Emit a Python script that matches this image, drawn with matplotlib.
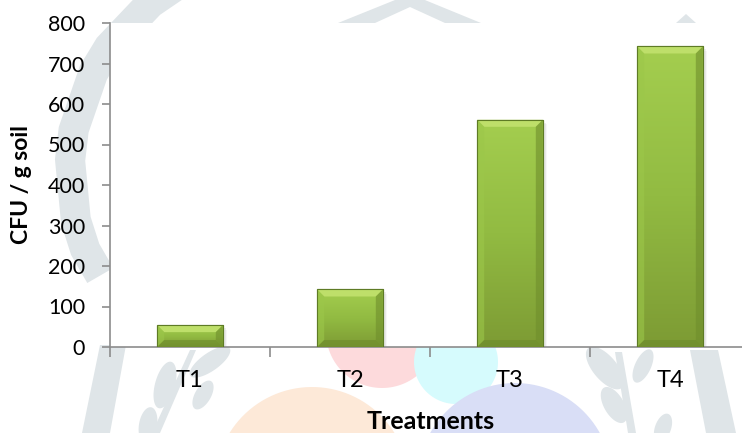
import numpy as np
import matplotlib
matplotlib.use("Agg")
import matplotlib.pyplot as plt
from matplotlib.patches import Wedge, Polygon, Rectangle
from matplotlib.colors import LinearSegmentedColormap

# ---- data ----
treatments = ["T1", "T2", "T3", "T4"]
cfu_values = [54, 142, 561, 742]
y_ticks = [0, 100, 200, 300, 400, 500, 600, 700, 800]

W, H = 742, 433
fig = plt.figure(figsize=(W / 100, H / 100), dpi=100)
fig.patch.set_facecolor("white")


def px(x, y):
    """pixel position (from top-left) -> figure fraction"""
    return x / W, 1 - y / H


def add_fig_patch(p):
    p.set_transform(fig.transFigure)
    p.set_zorder(0)
    fig.patches.append(p)


def fpoly(points, color):
    add_fig_patch(Polygon([px(a, b) for a, b in points], closed=True,
                          facecolor=color, edgecolor="none"))


# ---- faint background emblem (figure level, hidden behind the white plot area) ----
grey = "#DFE5E8"


def fwedge(cx, cy, r, t1, t2, width, color):
    w = Wedge((0, 0), r, t1, t2, width=width)
    verts = w.get_path().vertices
    fpoly([(cx + a, cy - b) for a, b in verts], color)


def fcircle(cx, cy, r, color):
    t = np.linspace(0, 2 * np.pi, 120)
    fpoly(list(zip(cx + r * np.cos(t), cy + r * np.sin(t))), color)


def fleaf(cx, cy, a, b, ang, color):
    t = np.linspace(0, 2 * np.pi, 80)
    xs = a * np.cos(t)
    ys = b * np.sin(t)
    ca, sa = np.cos(np.radians(ang)), np.sin(np.radians(ang))
    fpoly([(cx + x * ca - y * sa, cy + x * sa + y * ca) for x, y in zip(xs, ys)], color)


# coloured petals near the bottom centre
fcircle(312, 484, 97, "#FDE9D8")
fcircle(382, 332, 56, "#FDDADC")
fcircle(456, 362, 42, "#D6FBFD")
fcircle(515, 480, 97, "#D9DEF6")

# left wreath arc and stroke
fwedge(283, 170, 226, 112, 210, 30, grey)
fpoly([(100, 345), (126, 345), (110, 433), (82, 433)], grey)
# left fern
fpoly([(190, 350), (196, 350), (160, 433), (152, 433)], grey)
fleaf(165, 385, 10, 24, 15, grey)
fleaf(210, 362, 9, 24, 55, grey)
fleaf(203, 395, 8, 16, 30, grey)
fleaf(148, 425, 9, 18, 10, grey)
# right wreath stroke
fpoly([(690, 350), (718, 350), (736, 433), (706, 433)], grey)
# right fern
fpoly([(615, 352), (622, 352), (636, 433), (628, 433)], grey)
fleaf(605, 368, 12, 26, -40, grey)
fleaf(614, 405, 10, 20, -30, grey)
fleaf(643, 366, 8, 18, 25, grey)
fleaf(663, 428, 8, 15, 20, grey)
# top chevron and small tips
fpoly([(338, 23), (400, -2), (420, -2), (481, 23), (445, 23), (410, 7), (375, 23)], grey)
fpoly([(126, 23), (136, 14), (146, 23)], grey)
fpoly([(676, 23), (686, 14), (696, 23)], grey)

# ---- axes ----
ax = fig.add_axes([110 / W, 86 / H, 640 / W, 324 / H])
ax.set_facecolor("white")
ax.set_zorder(2)

x = np.arange(len(treatments))
bar_w = 0.41
ax.set_xlim(-0.5, len(treatments) - 0.5)
ax.set_ylim(0, 800)

face_cmap = LinearSegmentedColormap.from_list("face", ["#A4CE4F", "#92BB42", "#7D9B34"])

bars = ax.bar(x, cfu_values, width=bar_w, color="#93BC42", edgecolor="#5E7B25",
              linewidth=0.8, zorder=3)

# pixel size of one data unit, for bevel sizing
(x0p, y0p), (x1p, y1p) = ax.transData.transform([(0, 0), (1, 100)])
ppx = x1p - x0p
ppy = (y1p - y0p) / 100
bev_x = 7 / ppx
bev_y = 7 / ppy

for rect, val in zip(bars, cfu_values):
    bx, bw = rect.get_x(), rect.get_width()
    # soft shadow
    for k, a in enumerate([0.10, 0.06, 0.03]):
        off = (k + 1) * 1.5
        ax.add_patch(Rectangle((bx + off / ppx, 0), bw, val - off / ppy,
                               facecolor="#000000", alpha=a, edgecolor="none", zorder=2))
    # vertical gradient on the face
    grad = np.linspace(0, 1, 256).reshape(-1, 1)
    im = ax.imshow(grad, cmap=face_cmap, aspect="auto", origin="upper",
                   extent=(bx, bx + bw, 0, val), zorder=3.1)
    im.set_clip_path(rect)
    by = min(bev_y, val / 2.5)
    # top bevel (light)
    ax.add_patch(Polygon([(bx, val), (bx + bw, val), (bx + bw - bev_x, val - by), (bx + bev_x, val - by)],
                         closed=True, facecolor="#BEDF6A", edgecolor="none", zorder=3.2))
    # left bevel
    ax.add_patch(Polygon([(bx, val), (bx + bev_x, val - by), (bx + bev_x, by), (bx, 0)],
                         closed=True, facecolor="#9CC74A", alpha=0.6, edgecolor="none", zorder=3.2))
    # right bevel (shaded)
    ax.add_patch(Polygon([(bx + bw, val), (bx + bw - bev_x, val - by), (bx + bw - bev_x, by), (bx + bw, 0)],
                         closed=True, facecolor="#6F8E2C", alpha=0.6, edgecolor="none", zorder=3.2))
    # bottom bevel
    ax.add_patch(Polygon([(bx, 0), (bx + bev_x, by), (bx + bw - bev_x, by), (bx + bw, 0)],
                         closed=True, facecolor="#6C8A2A", alpha=0.6, edgecolor="none", zorder=3.2))
    ax.add_patch(Rectangle((bx, 0), bw, val, facecolor="none", edgecolor="#5E7B25",
                           linewidth=0.8, zorder=3.3))

font = "Lato"
for s in ["top", "right"]:
    ax.spines[s].set_visible(False)
for s in ["left", "bottom"]:
    ax.spines[s].set_color("#8C8C8C")
    ax.spines[s].set_linewidth(1.2)

ax.set_yticks(y_ticks)
ax.set_yticklabels([str(v) for v in y_ticks], fontsize=15.5, fontfamily=font)
ax.tick_params(axis="y", direction="out", length=6, width=1.2, color="#8C8C8C", pad=12)

ax.set_xticks(np.arange(-0.5, len(treatments), 1.0))
ax.set_xticklabels([])
ax.tick_params(axis="x", direction="out", length=7, width=1.2, color="#8C8C8C")
for xi, lab in zip(x, treatments):
    ax.text(xi, -0.072, lab, transform=ax.get_xaxis_transform(), ha="center", va="top",
            fontsize=17, fontfamily=font)

ax.set_ylabel("CFU / g soil", fontsize=16.5, fontweight="bold", fontfamily=font)
ax.yaxis.set_label_coords(-0.122, 0.5)
fig.text(431 / W, 1 - 429 / H, "Treatments", ha="center", va="baseline",
         fontsize=18, fontweight="bold", fontfamily=font, zorder=3)

fig.savefig("out.png", dpi=100, facecolor="white")
